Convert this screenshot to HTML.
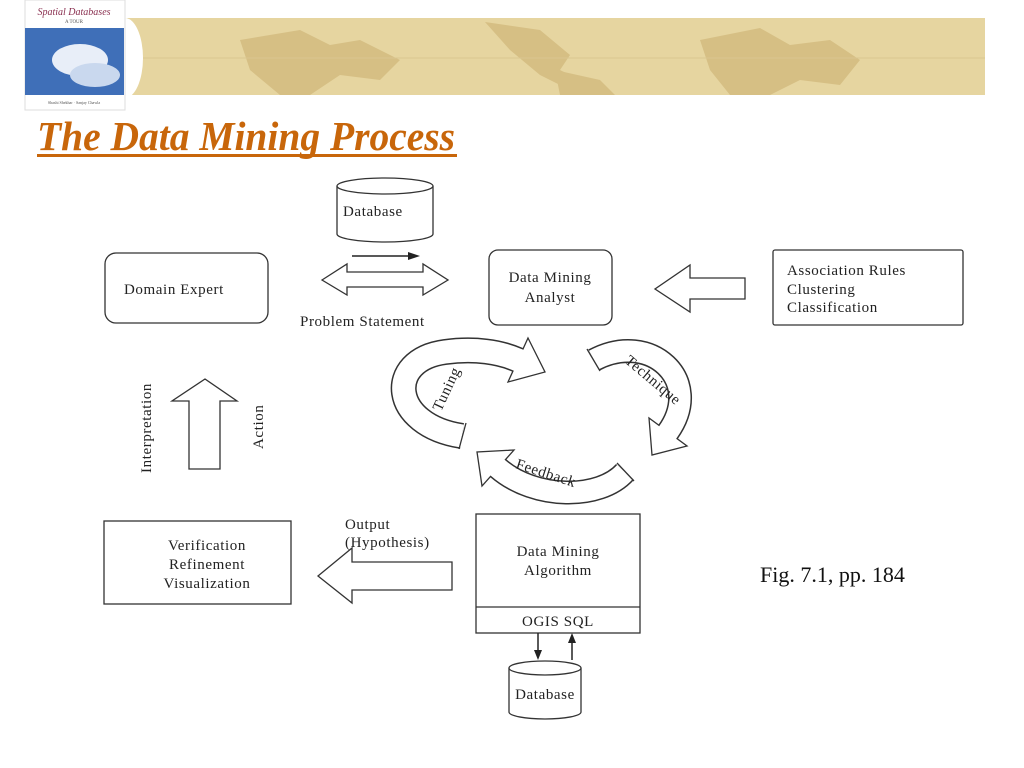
<!DOCTYPE html>
<html><head><meta charset="utf-8"><style>
html,body{margin:0;padding:0;background:#fff;width:1024px;height:768px;overflow:hidden}
svg{display:block}
.t{font-family:"Liberation Serif",serif;font-size:15px;fill:#222;letter-spacing:0.6px}
</style></head><body>
<svg width="1024" height="768" viewBox="0 0 1024 768" xmlns="http://www.w3.org/2000/svg">
<!-- banner -->
<rect x="125" y="18" width="860" height="77" fill="#e6d5a0"/>
<g fill="#d6bf84">
<path d="M240 40 L300 30 L330 45 L360 40 L400 60 L380 80 L340 75 L310 95 L280 95 L250 70 Z"/>
<path d="M485 22 L540 30 L570 55 L560 70 L590 85 L600 95 L580 95 L540 75 L510 50 Z"/>
<path d="M555 70 L600 80 L615 95 L560 95 Z"/>
<path d="M700 40 L760 28 L790 45 L830 40 L860 60 L840 85 L800 80 L770 95 L730 95 L710 70 Z"/>
</g>
<g stroke="#d9c690" stroke-width="1"><line x1="125" y1="58" x2="985" y2="58"/></g>
<ellipse cx="125" cy="58" rx="18" ry="40" fill="#fff"/>
<!-- book -->
<rect x="25" y="0" width="100" height="110" fill="#fff" stroke="#ddd"/>
<rect x="25" y="28" width="99" height="67" fill="#3f6fb8"/>
<ellipse cx="80" cy="60" rx="28" ry="16" fill="#e8eef8"/>
<ellipse cx="95" cy="75" rx="25" ry="12" fill="#c9d8ee"/>
<text x="74" y="15" text-anchor="middle" font-family="Liberation Serif,serif" font-style="italic" font-size="10" fill="#8a3050">Spatial Databases</text>
<text x="74" y="23" text-anchor="middle" font-family="Liberation Serif,serif" font-size="5" fill="#555">A TOUR</text>
<text x="74" y="104" text-anchor="middle" font-family="Liberation Serif,serif" font-size="4" fill="#555">Shashi Shekhar · Sanjay Chawla</text>
<!-- title -->
<text x="37" y="150" font-family="Liberation Serif,serif" font-style="italic" font-weight="bold" font-size="41" fill="#c8660a" textLength="418" lengthAdjust="spacingAndGlyphs">The Data Mining Process</text>
<rect x="37" y="154" width="420" height="3" fill="#c8660a"/>

<g fill="#fff" stroke="#333" stroke-width="1.3">
<path d="M337 186 L337 234 A48 8 0 0 0 433 234 L433 186"/>
<ellipse cx="385" cy="186" rx="48" ry="8"/>
<rect x="105" y="253" width="163" height="70" rx="11"/>
<rect x="489" y="250" width="123" height="75" rx="9"/>
<rect x="773" y="250" width="190" height="75" rx="2"/>
<path d="M322 280 L347 264 L347 272 L423 272 L423 264 L448 280 L423 295 L423 287 L347 287 L347 295 Z"/>
<path d="M745 278 L690 278 L690 265 L655 289 L690 312 L690 299 L745 299 Z"/>
<path d="M189 469 L189 401 L172 401 L205 379 L237 401 L220 401 L220 469 Z"/>
<rect x="104" y="521" width="187" height="83"/>
<path d="M452 562 L352 562 L352 548 L318 576 L352 603 L352 590 L452 590 Z"/>
<rect x="476" y="514" width="164" height="119"/>
<line x1="476" y1="607" x2="640" y2="607"/>
<path d="M509 668 L509 712 A36 7 0 0 0 581 712 L581 668"/>
<ellipse cx="545" cy="668" rx="36" ry="7"/>
</g>
<line x1="352" y1="256" x2="410" y2="256" stroke="#222" stroke-width="1.5"/>
<path d="M420 256 L408 252 L408 260 Z" fill="#222"/>
<line x1="538" y1="633" x2="538" y2="652" stroke="#222" stroke-width="1.5"/>
<path d="M538 660 L534 650 L542 650 Z" fill="#222"/>
<line x1="572" y1="641" x2="572" y2="660" stroke="#222" stroke-width="1.5"/>
<path d="M572 633 L568 643 L576 643 Z" fill="#222"/>

<!-- cycle arrows -->
<g fill="none" stroke-linecap="butt">
<path d="M462 436 C 390 425 385 360 445 352 C 475 348 500 352 518 360" stroke="#333" stroke-width="26"/>
<path d="M594 360 C 650 330 705 380 668 432" stroke="#333" stroke-width="24"/>
<path d="M625 472 C 600 500 535 500 498 468" stroke="#333" stroke-width="24"/>
</g>
<g fill="#fff" stroke="#333" stroke-width="1.3">
<path d="M528 338 L545 372 L508 382 Z"/>
<path d="M687 446 L652 455 L649 418 Z"/>
<path d="M514 450 L477 452 L482 486 Z"/>
</g>
<g fill="none" stroke="#fff" stroke-linecap="butt">
<path d="M462 436 C 390 425 385 360 445 352 C 475 348 500 352 518 360 L522 362" stroke-width="23"/>
<path d="M594 360 C 650 330 705 380 668 432 L666 435" stroke-width="21"/>
<path d="M625 472 C 600 500 535 500 498 468 L495 465" stroke-width="21"/>
</g>
<g stroke="#333" stroke-width="1.3">
<line x1="466" y1="423" x2="459" y2="449"/>
<line x1="587" y1="349" x2="600" y2="371"/>
<line x1="617" y1="463" x2="634" y2="481"/>
</g>

<text class="t" x="343" y="216">Database</text>
<text class="t" x="124" y="294">Domain Expert</text>
<text class="t" x="300" y="326">Problem Statement</text>
<text class="t" x="550" y="282" text-anchor="middle">Data Mining</text>
<text class="t" x="550" y="302" text-anchor="middle">Analyst</text>
<text class="t" x="787" y="275">Association Rules</text>
<text class="t" x="787" y="294">Clustering</text>
<text class="t" x="787" y="312">Classification</text>
<text class="t" transform="translate(151 473) rotate(-90)" font-size="14">Interpretation</text>
<text class="t" transform="translate(263 449) rotate(-90)" font-size="14">Action</text>
<text class="t" x="207" y="550" text-anchor="middle">Verification</text>
<text class="t" x="207" y="569" text-anchor="middle">Refinement</text>
<text class="t" x="207" y="588" text-anchor="middle">Visualization</text>
<text class="t" x="345" y="529">Output</text>
<text class="t" x="345" y="547">(Hypothesis)</text>
<text class="t" x="558" y="556" text-anchor="middle">Data Mining</text>
<text class="t" x="558" y="575" text-anchor="middle">Algorithm</text>
<text class="t" x="558" y="626" text-anchor="middle">OGIS SQL</text>
<text class="t" x="545" y="699" text-anchor="middle" font-size="14">Database</text>
<text class="t" font-size="14" transform="translate(441 412) rotate(-65)">Tuning</text>
<text class="t" font-size="14" transform="translate(624 362) rotate(40)">Technique</text>
<text class="t" font-size="14" transform="translate(515 468) rotate(18)">Feedback</text>
<text x="760" y="582" font-family="Liberation Serif,serif" font-size="22" fill="#111">Fig. 7.1, pp. 184</text>
</svg>
</body></html>
